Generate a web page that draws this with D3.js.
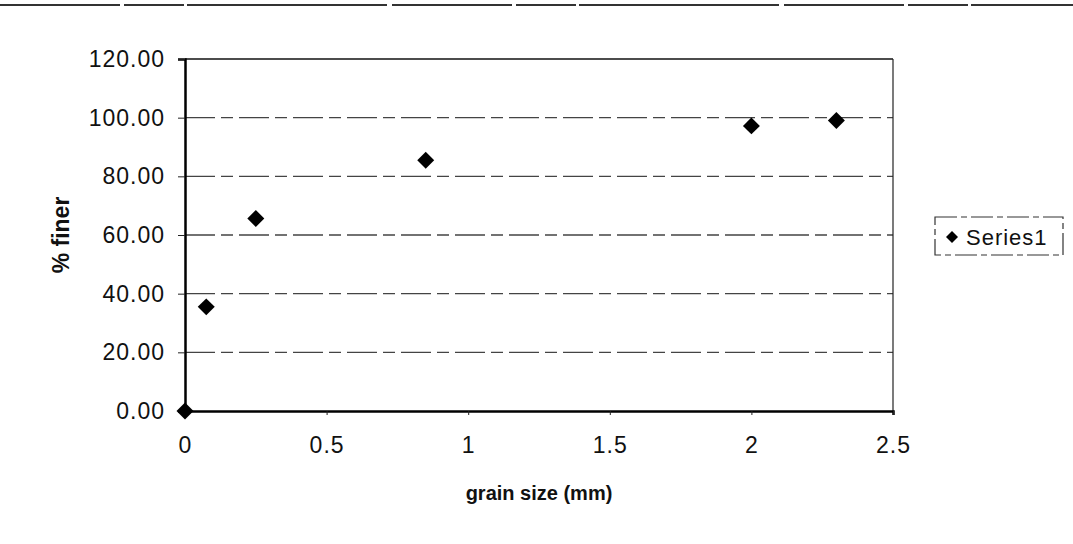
<!DOCTYPE html>
<html>
<head>
<meta charset="utf-8">
<script src="https://cdn.jsdelivr.net/npm/d3@7"></script>
<style>
    body { margin: 0; background: #fff; }
    svg text { font-family: "Liberation Sans", Arial, sans-serif; fill: #111; }
</style>
</head>
<body>
<svg id="chart"></svg>
<script>
"use strict";

const width = 1073;
const height = 544;

// plot area
const left = 185;
const right = 893;
const top_y = 59;
const bottom = 411;

// data
const grain_size = [0, 0.075, 0.25, 0.85, 2.0, 2.3];
const pct_finer = [0, 35.5, 65.6, 85.5, 97.2, 99.0];
const x_ticks = [0, 0.5, 1, 1.5, 2, 2.5];
const y_ticks = [0, 20, 40, 60, 80, 100, 120];
const series_name = "Series1";

const svg = d3.select("#chart")
    .attr("width", width)
    .attr("height", height);

const x_scale = d3.scaleLinear()
    .domain([0, 2.5])
    .range([left, right]);

const y_scale = d3.scaleLinear()
    .domain([0, 120])
    .range([bottom, top_y]);

// scanned page edge at the top
svg.append("line")
    .attr("x1", 0).attr("x2", width)
    .attr("y1", 5).attr("y2", 5)
    .attr("stroke", "#333")
    .attr("stroke-width", 2)
    .attr("stroke-dasharray", "120,4,60,3,200,5");

// gridlines
svg.append("g")
    .selectAll("line")
    .data(y_ticks.filter(d => d > 0 && d < 120))
    .enter()
    .append("line")
    .attr("x1", left)
    .attr("x2", right)
    .attr("y1", d => y_scale(d))
    .attr("y2", d => y_scale(d))
    .attr("stroke", "#444")
    .attr("stroke-width", 1.3)
    .attr("stroke-dasharray", "30,6,12,6");

// plot frame: top and right
svg.append("line")
    .attr("x1", left).attr("x2", right)
    .attr("y1", top_y).attr("y2", top_y)
    .attr("stroke", "#111").attr("stroke-width", 1.6);
svg.append("line")
    .attr("x1", right).attr("x2", right)
    .attr("y1", top_y).attr("y2", bottom)
    .attr("stroke", "#222").attr("stroke-width", 1.2);

// axes
const axis_y = svg.append("g")
    .attr("transform", `translate(${left}, 0)`)
    .call(
        d3.axisLeft(y_scale)
            .tickValues(y_ticks)
            .tickSize(7)
            .tickPadding(13)
            .tickFormat(d => d.toFixed(2))
    );

const axis_x = svg.append("g")
    .attr("transform", `translate(0, ${bottom})`)
    .call(
        d3.axisBottom(x_scale)
            .tickValues(x_ticks)
            .tickSize(4)
            .tickPadding(22)
            .tickFormat(d => String(d))
    );

[axis_y, axis_x].forEach(ax => {
    ax.select(".domain").attr("stroke", "#000").attr("stroke-width", 2.5);
    ax.selectAll(".tick line").attr("stroke", "#222");
    ax.selectAll(".tick text")
        .attr("font-size", 23)
        .attr("letter-spacing", 1)
        .attr("fill", "#111")
        .style("font-family", "'Liberation Sans', Arial, sans-serif");
});

// axis titles
svg.append("text")
    .attr("x", (left + right) / 2)
    .attr("y", 500)
    .attr("text-anchor", "middle")
    .attr("font-size", 20)
    .attr("font-weight", "bold")
    .text("grain size (mm)");

svg.append("text")
    .attr("transform", `translate(69, ${(top_y + bottom) / 2}) rotate(-90)`)
    .attr("text-anchor", "middle")
    .attr("font-size", 23)
    .attr("font-weight", "bold")
    .text("% finer");

// points
const marker = d3.symbol(d3.symbolSquare, 144);
const points = grain_size.map((g, i) => ({ x: g, y: pct_finer[i] }));

svg.append("g")
    .selectAll("path")
    .data(points)
    .enter()
    .append("path")
    .attr("d", marker)
    .attr("transform", d => `translate(${x_scale(d.x)}, ${y_scale(d.y)}) rotate(45)`)
    .attr("fill", "#000");

// legend
const legend = svg.append("g")
    .attr("transform", "translate(935, 217)");

legend.append("rect")
    .attr("width", 128)
    .attr("height", 38)
    .attr("fill", "none")
    .attr("stroke", "#333")
    .attr("stroke-width", 1.2)
    .attr("stroke-dasharray", "22,4,6,4");

legend.append("path")
    .attr("d", d3.symbol(d3.symbolSquare, 72))
    .attr("transform", "translate(17, 20) rotate(45)")
    .attr("fill", "#000");

legend.append("text")
    .attr("x", 31)
    .attr("y", 28)
    .attr("font-size", 22)
    .attr("letter-spacing", 1)
    .text(series_name);
</script>
</body>
</html>
